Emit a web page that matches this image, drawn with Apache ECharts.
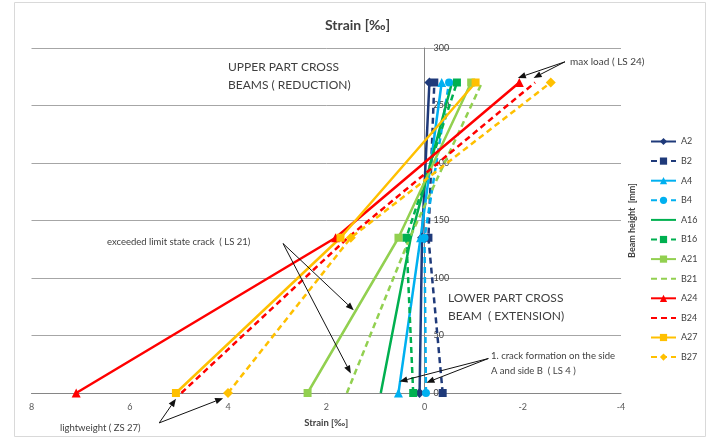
<!DOCTYPE html>
<html><head><meta charset="utf-8">
<script src="https://cdn.jsdelivr.net/npm/echarts@6/dist/echarts.min.js"></script>
<style>html,body{margin:0;padding:0;background:#fff}#c{width:715px;height:440px}</style>
</head><body><div id="c"></div>
<script>
// Beam heights [mm] at which strain was measured
const heights = [0, 135, 270];
// Strain [‰] at each height (bottom, middle, top)
const A2  = [0.10, 0.05, -0.10];
const B2  = [-0.37, -0.08, -0.20];
const A4  = [0.53, 0.08, -0.35];
const B4  = [-0.03, 0.00, -0.50];
const A16 = [0.89, 0.28, -0.56];
const B16 = [0.23, 0.37, -0.66];
const A21 = [2.38, 0.53, -0.95];
const B21 = [1.58, 0.30, -1.17];
const A24 = [7.09, 1.81, -1.93];
const B24 = [4.95, 1.56, -2.25];
const A27 = [5.06, 1.71, -1.04];
const B27 = [4.00, 1.50, -2.57];
const xTicks = [8, 6, 4, 2, 0, -2, -4];
const yTicks = [0, 50, 100, 150, 200, 250, 300];

const FONT = 'Lato, "Open Sans", sans-serif';
const NAVY = '#1f3a7a', BLUE = '#00b0f0', GREEN = '#00b050', LGREEN = '#92d050', RED = '#ff0000', YEL = '#ffc000';
const defs = [
  ['A2', A2, NAVY, false, 'diamond', 10],
  ['B2', B2, NAVY, true, 'rect', 8],
  ['A4', A4, BLUE, false, 'triangle', 9],
  ['B4', B4, BLUE, true, 'circle', 8],
  ['A16', A16, GREEN, false, 'none', 0],
  ['B16', B16, GREEN, true, 'rect', 8],
  ['A21', A21, LGREEN, false, 'rect', 8],
  ['B21', B21, LGREEN, true, 'none', 0],
  ['A24', A24, RED, false, 'triangle', 9],
  ['B24', B24, RED, true, 'none', 0],
  ['A27', A27, YEL, false, 'rect', 8],
  ['B27', B27, YEL, true, 'diamond', 10]
];
const legendData = defs.map(d => d[4] === 'none'
  ? { name: d[0], itemStyle: { opacity: 0 } }
  : { name: d[0] });

const series = defs.map(([name, vals, color, dashed, sym, size]) => ({
  name, type: 'line',
  data: heights.map((h, i) => vals[i] == null ? null : [vals[i], h]),
  symbol: sym, symbolSize: size, showSymbol: sym !== 'none',
  lineStyle: { color, width: 2.5, type: dashed ? [6, 4] : 'solid' },
  itemStyle: { color },
  animation: false
}));

const chart = echarts.init(document.getElementById('c'), null, { renderer: 'canvas' });
const GRID = { left: 31.5, right: 94, top: 48, bottom: 47 };
chart.setOption({
  animation: false,
  textStyle: { fontFamily: FONT },
  title: { text: 'Strain [‰]', left: 'center', top: 13,
    textStyle: { fontSize: 14, fontWeight: 'bold', color: '#404040', fontFamily: FONT } },
  grid: GRID,
  xAxis: {
    type: 'value', min: -4, max: 8, interval: 2, inverse: true,
    axisLine: { show: true, onZero: false, lineStyle: { color: '#868686', width: 1 } },
    axisTick: { show: false },
    axisLabel: { color: '#595959', fontSize: 9, margin: 10, fontFamily: FONT },
    splitLine: { show: false },
    name: 'Strain [‰]', nameLocation: 'middle', nameGap: 25,
    nameTextStyle: { fontWeight: 'bold', fontSize: 9.5, color: '#404040', fontFamily: FONT }
  },
  yAxis: [{
    type: 'value', min: 0, max: 300, interval: 50, position: 'left', offset: 0,
    axisLine: { show: true, onZero: false, lineStyle: { color: '#868686', width: 1 } },
    axisTick: { show: false },
    axisLabel: { inside: true, margin: 9, color: '#404040', fontSize: 9, fontFamily: FONT },
    splitLine: { lineStyle: { color: '#a6a6a6', width: 1 } }
  }, {
    type: 'value', min: 0, max: 300, position: 'right',
    axisLine: { show: false, onZero: false }, axisTick: { show: false },
    axisLabel: { show: false }, splitLine: { show: false },
    name: 'Beam height  [mm]', nameLocation: 'middle', nameRotate: 90, nameGap: 7,
    nameTextStyle: { fontWeight: 'bold', fontSize: 9, color: '#404040', fontFamily: FONT }
  }],
  legend: {
    orient: 'vertical', left: 645, top: 131,
    itemWidth: 25, itemHeight: 9, itemGap: 8.6,
    textStyle: { fontSize: 9, color: '#404040', lineHeight: 11, fontFamily: FONT },
    data: legendData
  },
  series
});

// move the vertical axis onto strain = 0 (as in the original)
const zeroPx = chart.convertToPixel({ gridIndex: 0 }, [0, 0])[0];
chart.setOption({ yAxis: [{ offset: -(zeroPx - GRID.left) }, {}] });

// annotation arrows, given in data coordinates [strain, height]
const arrows = [
  [[-2.86, 288], [-1.90, 274]],
  [[-2.86, 288], [-2.22, 274]],
  [[2.88, 130], [1.44, 72]],
  [[2.88, 130], [1.50, 17]],
  [[-1.30, 30], [0.51, 10]],
  [[-1.30, 30], [-0.04, 9]],
  [[5.40, -26], [5.06, -5]],
  [[5.40, -26], [4.10, -4.5]]
];
const g = [];
g.push({ type: 'rect', shape: { x: 14.5, y: 2.5, width: 691, height: 434 },
  style: { fill: null, stroke: '#d9d9d9', lineWidth: 1 }, z: -1 });
arrows.forEach(([s, e]) => {
  const p1 = chart.convertToPixel({ gridIndex: 0 }, s);
  const p2 = chart.convertToPixel({ gridIndex: 0 }, e);
  const dx = p2[0] - p1[0], dy = p2[1] - p1[1], L = Math.hypot(dx, dy);
  const ux = dx / L, uy = dy / L, hl = 8, hw = 3.2;
  const bx = p2[0] - ux * hl, by = p2[1] - uy * hl;
  g.push({ type: 'line', shape: { x1: p1[0], y1: p1[1], x2: bx, y2: by },
    style: { stroke: '#111', lineWidth: 1 }, z: 100 });
  g.push({ type: 'polygon', shape: { points: [[p2[0], p2[1]], [bx - uy * hw, by + ux * hw], [bx + uy * hw, by - ux * hw]] },
    style: { fill: '#111' }, z: 100 });
});
const txt = (x, y, text, size, lh, va) => ({
  type: 'text', x, y, z: 100,
  style: { text, fontSize: size, lineHeight: lh, fill: '#404040', fontFamily: FONT, textVerticalAlign: va || 'top' }
});
g.push(txt(228, 58, 'UPPER PART CROSS\nBEAMS ( REDUCTION)', 12, 18));
g.push(txt(570, 62, 'max load ( LS 24)', 10, 12, 'middle'));
g.push(txt(107, 242, 'exceeded limit state crack  ( LS 21)', 9.5, 12, 'middle'));
g.push(txt(448, 289, 'LOWER PART CROSS\nBEAM  ( EXTENSION)', 12, 18));
g.push(txt(491, 348, '1. crack formation on the side\nA and side B  ( LS 4 )', 9.5, 15));
g.push(txt(60, 428, 'lightweight ( ZS 27)', 9.5, 12, 'middle'));
chart.setOption({ graphic: g });
</script>
</body></html>
